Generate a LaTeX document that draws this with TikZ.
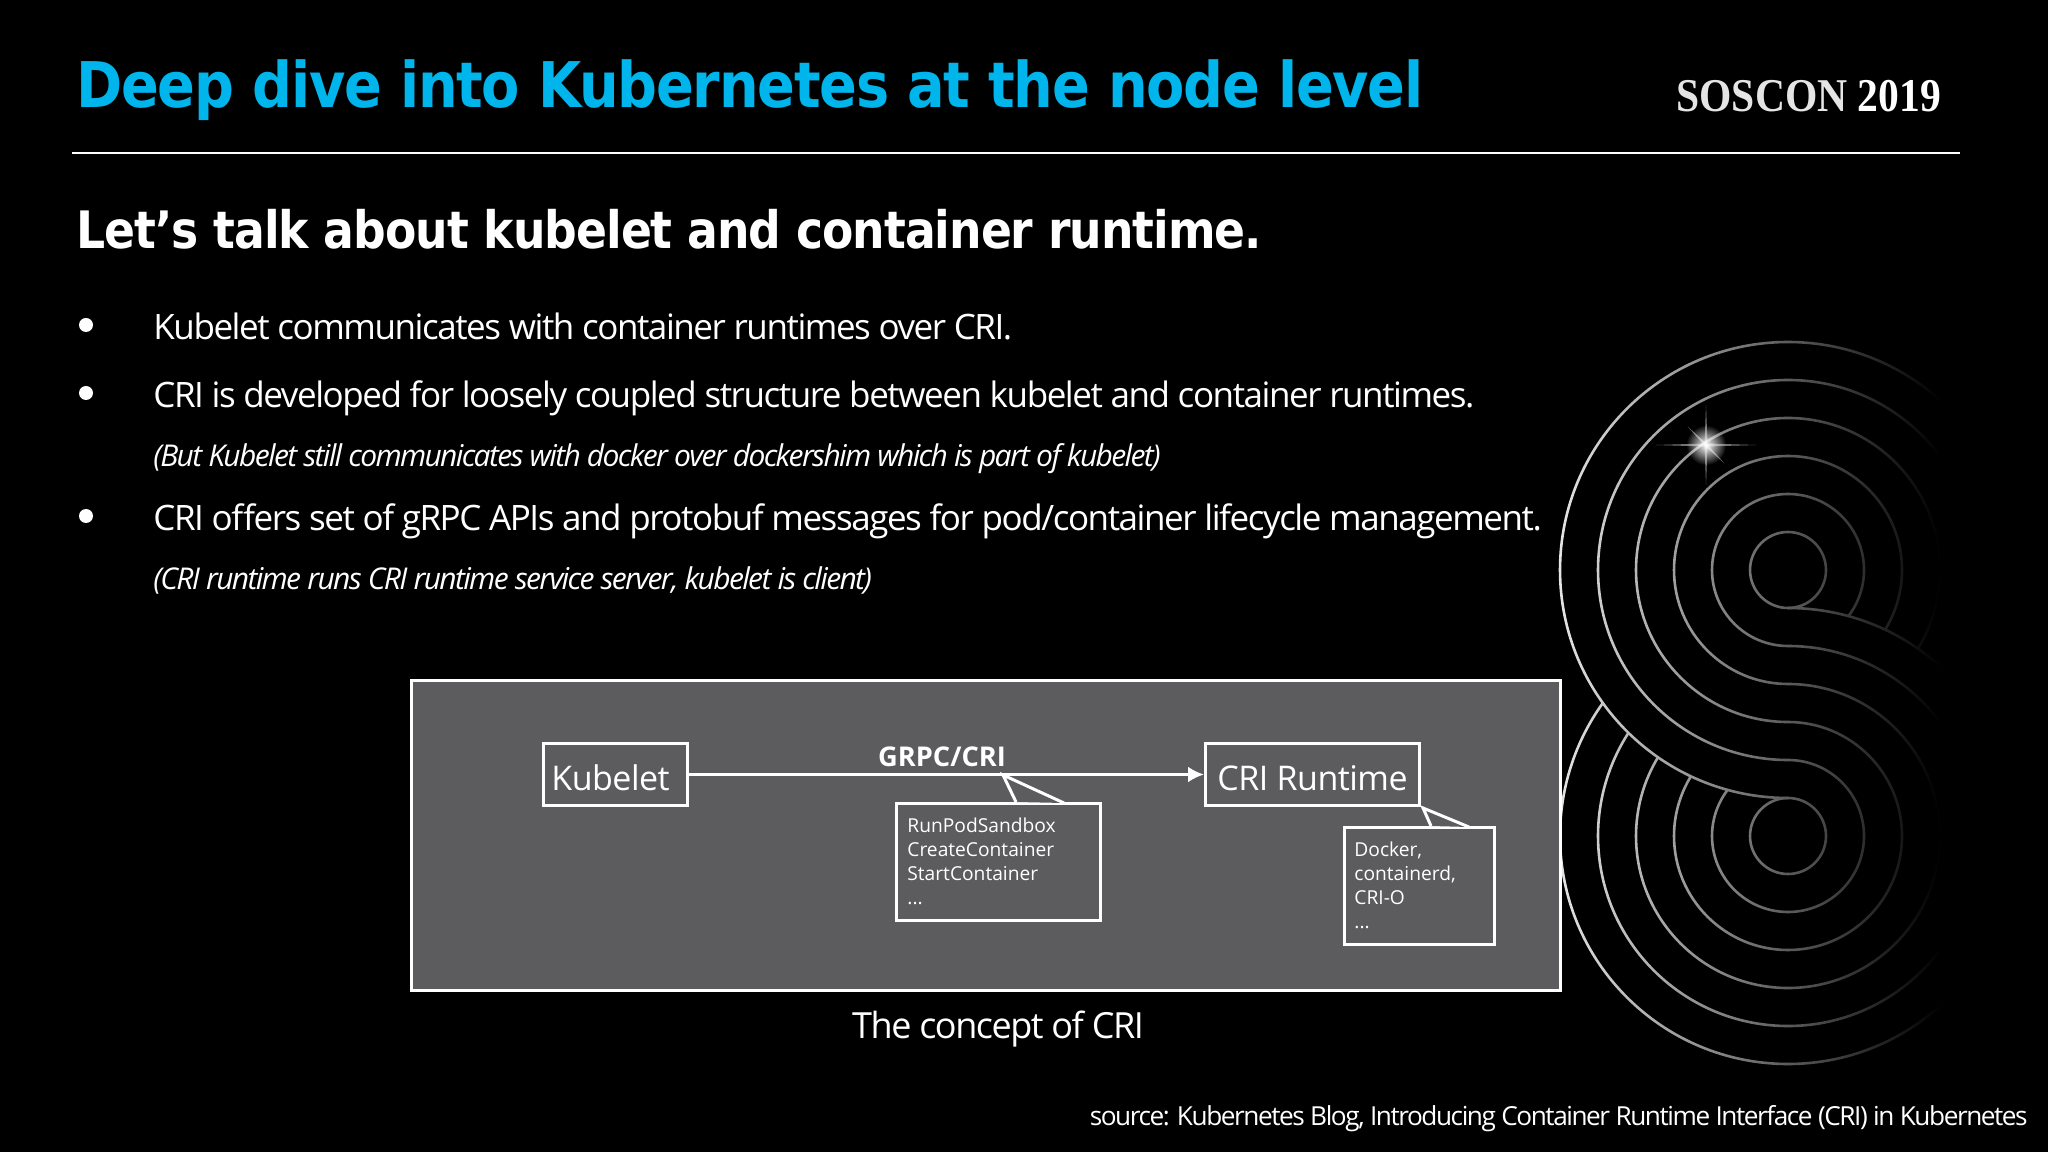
\documentclass[tikz,border=0pt]{standalone}
\usepackage{fontspec}
\setmainfont{Open Sans}
\newfontfamily\bodyfont[LetterSpace=-4.1]{Open Sans}
\newfontfamily\notefont[LetterSpace=-5.5]{Open Sans}
\newfontfamily\boxfont[LetterSpace=-1.5]{Open Sans}
\newfontfamily\titlefont[FakeStretch=0.885,LetterSpace=-2]{DejaVu Sans}
\newfontfamily\logofont[FakeStretch=0.885]{Liberation Serif}
\usetikzlibrary{fadings,arrows.meta}
\tikzfading[name=ringfade, left color=transparent!92, right color=transparent!0]
\tikzfading[name=rayfade, inner color=transparent!0, outer color=transparent!100]
\definecolor{panelgray}{HTML}{5C5B5E}
\definecolor{titleblue}{HTML}{00B4EC}
\tikzset{
  bodytext/.style={anchor=base west, white, font=\fontsize{17.5}{20}\selectfont\bodyfont, inner sep=0},
  notetext/.style={anchor=base west, white, font=\fontsize{15}{18}\selectfont\itshape\notefont, inner sep=0},
  dotmark/.style={circle, fill=white, minimum size=7pt, inner sep=0},
  boxnode/.style={draw=white, line width=1.5pt, anchor=south west, inner sep=0, text height=15.6pt, text depth=0pt},
  boxtext/.style={white, font=\fontsize{17}{20}\selectfont\boxfont},
  calltext/.style={anchor=north west, white, align=left, inner sep=0, font=\fontsize{9.6}{12}\selectfont},
  ring/.style={white, line width=1.3pt}
}
\begin{document}
\begin{tikzpicture}[x=0.5pt,y=0.5pt]
\useasboundingbox (0,0) rectangle (2048,1152);
\fill [black] (0,0) rectangle (2048,1152);
% rings
\foreach \k in {1,...,6} {
  \pgfmathsetmacro{\rr}{38*\k}
  \pgfmathsetmacro{\rs}{38*(7-\k)}
  \pgfmathsetmacro{\cutang}{asin(min(1,35.285/\rr+\rr/532))}
  \draw [ring] (1788,582+\rr) arc [start angle=90, end angle=270, radius=\rr]
    arc [start angle=90, end angle=-90, radius=\rs];
  \draw [ring] (1788,582+\rr) arc [start angle=90, end angle=-\cutang, radius=\rr];
  \draw [ring] (1788,316-\rr) arc [start angle=270, end angle=180-\cutang, radius=\rr];
}
\fill [black, path fading=ringfade] (1550,60) rectangle (1940,1100);
\fill [black] (1940,60) rectangle (2048,1100);
% star
\fill [white, path fading=rayfade] (1706,707) circle [radius=20];
\foreach \ang/\len in {0/50,90/40,-45/26} {
  \fill [white, opacity=0.45, rotate around={\ang:(1706,707)}] (1706-\len,707) -- (1706,708.5) -- (1706+\len,707) -- (1706,705.5) -- cycle;
}
% header
\node (title) [anchor=base west, titleblue, inner sep=0, font=\fontsize{31.5}{36}\selectfont\bfseries\titlefont] at (76,1044) {Deep dive into Kubernetes at the node level};
\node (logo) [anchor=base west, white, inner sep=0, font=\fontsize{23.5}{24}\selectfont\bfseries\logofont] at (1676,1040) {\textcolor{white!90!black}{SOSCON} 2019};
\draw [white, line width=1pt] (72,999) -- (1960,999);
\node (subtitle) [anchor=base west, white, inner sep=0, font=\fontsize{25.8}{30}\selectfont\bfseries\titlefont] at (76,903) {Let’s talk about kubelet and container runtime.};
% bullets
\node (dota) [dotmark] at (86,827) {};
\node (dotb) [dotmark] at (86,759) {};
\node (dotc) [dotmark] at (86,636) {};
\node (linea) [bodytext] at (153,812) {Kubelet communicates with container runtimes over CRI.};
\node (lineb) [bodytext] at (153,744) {CRI is developed for loosely coupled structure between kubelet and container runtimes.};
\node (linec) [notetext] at (153,685) {(But Kubelet still communicates with docker over dockershim which is part of kubelet)};
\node (lined) [bodytext] at (153,621) {CRI offers set of gRPC APIs and protobuf messages for pod/container lifecycle management.};
\node (linee) [notetext] at (153,562) {(CRI runtime runs CRI runtime service server, kubelet is client)};
% panel
\draw [white, fill=panelgray, line width=1.5pt] (411,162) rectangle (1560,472);
\node (kubelet) [boxnode, boxtext, minimum width=72pt, minimum height=31pt] at (542,345) {Kubelet\hspace*{5pt}};
\node (runtime) [boxnode, boxtext, minimum width=107pt, minimum height=31pt] at (1204,345) {CRI Runtime};
\node (grpc) [anchor=base, white, inner sep=0, font=\fontsize{13.6}{15}\selectfont\bfseries] at (942,386) {GRPC/CRI};
\draw [-{Latex[length=8pt,width=8pt]}, white, line width=1.5pt] (kubelet) -- (runtime);
% callouts
\coordinate (tipa) at (1003,377);
\coordinate (tipb) at (1423,344);
\draw [white, line width=1.5pt, fill=panelgray] (896,232) rectangle (1100,349);
\draw [white, line width=1.5pt, fill=panelgray] (1344,208) rectangle (1494,325);
\draw [white, line width=1.5pt, fill=panelgray] (1016,350) -- (tipa) -- (1064,349);
\draw [white, line width=1.5pt, fill=panelgray] (1431,326) -- (tipb) -- (1469,325);
\node (calla) [calltext] at (907,334) {RunPodSandbox\\CreateContainer\\StartContainer\\...};
\node (callb) [calltext] at (1354,310) {Docker,\\containerd,\\CRI-O\\...};
\node (caption) [anchor=base, white, inner sep=0, font=\fontsize{18}{20}\selectfont\bodyfont] at (998,114) {The concept of CRI};
\node (source) [anchor=base east, white, inner sep=0, font=\fontsize{13.1}{16}\selectfont\notefont] at (2028,27) {source: Kubernetes Blog, Introducing Container Runtime Interface (CRI) in Kubernetes};
\end{tikzpicture}
\end{document}
